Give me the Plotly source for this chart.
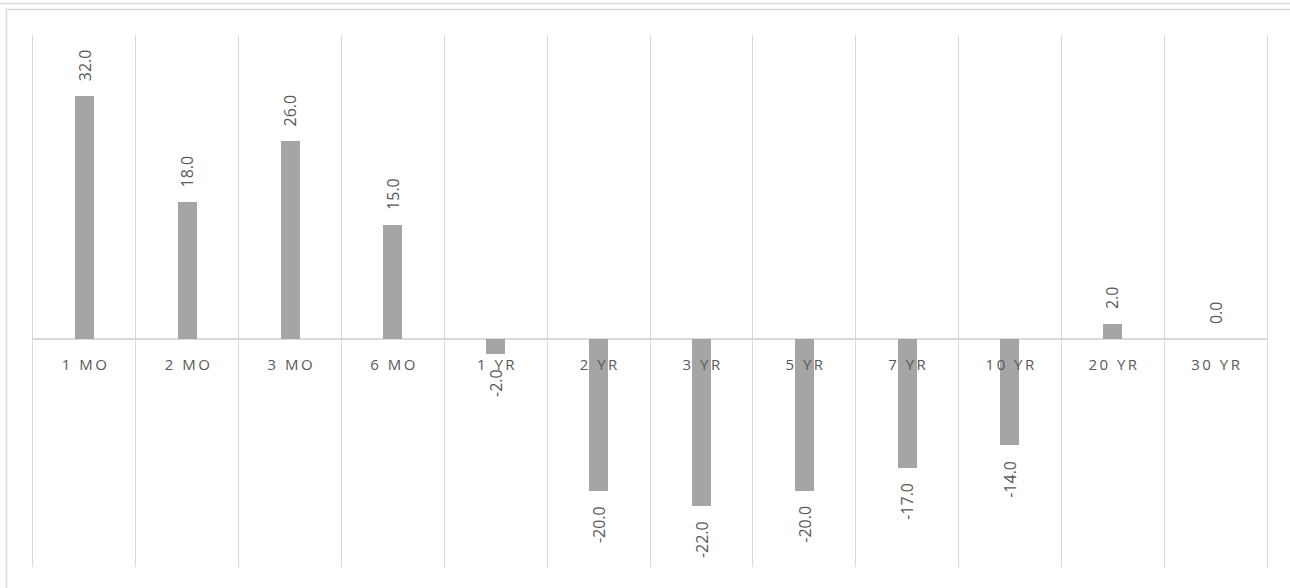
import plotly.graph_objects as go

# Yield change by tenor (basis points)
tenors = ["1 MO", "2 MO", "3 MO", "6 MO", "1 YR", "2 YR", "3 YR", "5 YR",
          "7 YR", "10 YR", "20 YR", "30 YR"]
changes = [32.0, 18.0, 26.0, 15.0, -2.0, -20.0, -22.0, -20.0, -17.0, -14.0, 2.0, 0.0]
y_range = [-30, 40]

W, H = 1290, 588
M_L, M_R, M_T, M_B = 33, 23, 35, 21
PW, PH = W - M_L - M_R, H - M_T - M_B

GRID = "#d9d9d9"
BAR = "#a5a5a5"
TEXT = "#595959"
FONT = "Open Sans, Calibri, Arial, sans-serif"


def spaced(label):
    # widen the tracking of the category labels
    return "\u2009".join(label)


def px_x(px):
    return (px - M_L) / PW


def px_y(py):
    return (H - M_B - py) / PH


fig = go.Figure(go.Bar(
    x=tenors,
    y=changes,
    marker=dict(color=BAR, line=dict(width=0)),
    width=0.185,
    hoverinfo="x+y",
))

# value labels, rotated, sitting just past the end of each bar
for t, v in zip(tenors, changes):
    fig.add_annotation(
        x=t, y=v, xref="x", yref="y",
        text=f"{v:.1f}",
        textangle=-90,
        showarrow=False,
        xanchor="center",
        yanchor="bottom" if v >= 0 else "top",
        yshift=13 if v >= 0 else -13,
        font=dict(family=FONT, size=16, color=TEXT),
    )

# chart frame and the edge of the panel above it
fig.add_shape(type="rect", xref="paper", yref="paper",
              x0=px_x(6.5), x1=px_x(W + 20), y0=px_y(H + 20), y1=px_y(9.5),
              line=dict(color=GRID, width=1.5), layer="below")
fig.add_shape(type="line", xref="paper", yref="paper",
              x0=px_x(-5), x1=px_x(W + 20), y0=px_y(3.5), y1=px_y(3.5),
              line=dict(color=GRID, width=1.5), layer="below")

zero_pos = (0 - y_range[0]) / (y_range[1] - y_range[0])

fig.update_layout(
    width=W, height=H,
    margin=dict(l=M_L, r=M_R, t=M_T, b=M_B),
    paper_bgcolor="white",
    plot_bgcolor="white",
    showlegend=False,
    bargap=0,
    font=dict(family=FONT, color=TEXT),
    xaxis=dict(
        type="category",
        tickmode="array",
        tickvals=tenors,
        ticktext=[spaced(t) for t in tenors],
        tickson="boundaries",
        showgrid=True,
        gridcolor=GRID,
        gridwidth=1,
        ticks="",
        showline=False,
        zeroline=False,
        anchor="free",
        position=zero_pos,
        ticklabelstandoff=15,
        tickfont=dict(family=FONT, size=15, color=TEXT),
        range=[-0.5, len(tenors) - 0.5],
        fixedrange=True,
    ),
    yaxis=dict(
        range=y_range,
        showgrid=False,
        showticklabels=False,
        ticks="",
        zeroline=True,
        zerolinecolor=GRID,
        zerolinewidth=1.5,
        showline=True,
        linecolor=GRID,
        linewidth=1,
        mirror=True,
        fixedrange=True,
    ),
)

fig.write_html("out.html", config={"displayModeBar": False})
